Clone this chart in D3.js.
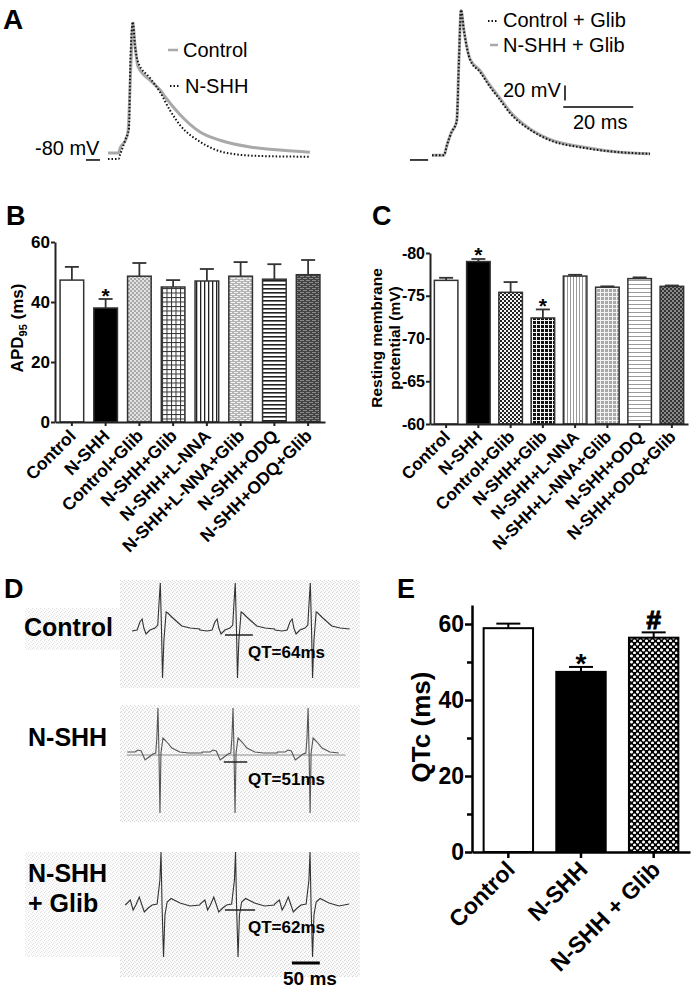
<!DOCTYPE html>
<html>
<head>
<meta charset="utf-8">
<script src="https://cdn.jsdelivr.net/npm/d3@7"></script>
<style>
body { margin: 0; background: #fff; }
svg text { font-family: "Liberation Sans", Arial, sans-serif; }
</style>
</head>
<body>
<div id="fig"></div>
<script>
// ---------------- Data ----------------

// Panel A: action potential traces (time in ms, membrane potential in mV)
var apControlT = [0, 3, 3.5, 5, 5.7, 6.6, 7.1, 7.7, 8.6, 12, 14.9, 16.3, 20.6, 26.3, 32, 40.6, 49, 57.7];
var apControlV = [-80, -80, -73, -63, -52, 44, 93, 64, 35, 17, 4, -5, -29, -52, -63, -72, -76, -79];
var apNshhT = [0, 3, 3.4, 4.9, 6, 6.4, 7.1, 7.7, 8.6, 12, 14.9, 17.7, 20.6, 26.3, 34, 43.4, 57.7];
var apNshhV = [-88, -88, -83, -63, -47, 44, 95, 64, 41, 20, 1, -23, -43, -65, -80, -84, -85];
var apCtrlGlibT = [0, 3.4, 4.3, 5.7, 6.6, 7.1, 7.7, 8.3, 9.1, 10.9, 13.7, 16.6, 19.4, 22.3, 28, 33.7, 43.1, 53.7, 62.3];
var apCtrlGlibV = [-83, -83, -69, -51, -44, -36, 44, 111, 84, 44, 28, 8, -9, -27, -49, -63, -73, -79, -81];
var apNshhGlibT = [0, 3.4, 4.3, 5.7, 6.6, 7.1, 7.7, 8.3, 9.1, 10.9, 13.7, 16.6, 19.4, 22.3, 28, 33.7, 43.1, 53.7, 62.3];
var apNshhGlibV = [-83, -83, -69, -51, -44, -36, 44, 110, 84, 45, 30, 10, -7, -25, -48, -62, -72, -79, -81];

// Panels B and C: groups, means and SEM
var groupsBC = ["Control", "N-SHH", "Control+Glib", "N-SHH+Glib", "N-SHH+L-NNA",
                "N-SHH+L-NNA+Glib", "N-SHH+ODQ", "N-SHH+ODQ+Glib"];
var apdMean = [47.3, 38, 48.6, 45, 47, 48.6, 47.6, 49.1];
var apdErr = [4.4, 3, 4.4, 2.3, 4, 4.7, 5, 4.9];
var rmpMean = [-76.8, -79.0, -75.4, -72.4, -77.3, -76.0, -77.0, -76.1];
var rmpErr = [0.3, 0.3, 1.2, 1.0, 0.15, 0.1, 0.15, 0.1];
var apdTicks = [0, 20, 40, 60];
var rmpTicks = [-80, -75, -70, -65, -60];

// Panel D: ECG beat templates (ms from R peak, mV) and R-peak times (ms)
var ecgControlDt = [-63, -50, -41, -36, -32, -29, -25, -18, -9, -4, -2, 0.5, 2.7, 4.5, 7, 11, 14, 21, 29, 39, 54, 71];
var ecgControlV = [0.04, 0.02, 0.04, 0.2, 0.26, 0.08, -0.04, 0.04, 0.08, 0.14, 0.54, 0.98, 0.04, -0.92, -0.16, 0.4, 0.38, 0.3, 0.22, 0.12, 0.08, 0.06];
var ecgControlR = [71.7, 206, 340.5];
var ecgNshhDt = [-55, -41, -36, -30, -23, -16, -9, -4, -2, 0, 1.8, 3.6, 5.4, 9, 16, 25, 39, 55, 79];
var ecgNshhV = [0.02, 0.02, 0.06, 0.04, -0.14, -0.08, -0.02, 0.0, 0.3, 0.9, 0.0, -1.2, 0.0, 0.3, 0.22, 0.1, 0.02, 0.0, 0.0];
var ecgNshhR = [68, 202.5, 337];
var ecgGlibDt = [-64, -55, -50, -45, -39, -36, -30, -23, -16, -7, -2, 0, 1.8, 4.5, 7, 11, 18, 34, 52, 70];
var ecgGlibV = [0.0, 0.1, -0.1, 0.0, 0.16, 0.06, -0.14, -0.06, 0.0, 0.02, 0.5, 1.06, 0.0, -1.04, -0.2, 0.06, 0.13, 0.04, -0.02, 0.02];
var ecgGlibR = [73.5, 207, 340.5];
var ecgRange = [[9, 421], [12, 404], [9, 413]];   // start/end of each trace
var qtMarks = [[188, 238, -0.06], [186, 228, -0.18], [188, 242, -0.1]];
var qtLabels = ["QT=64ms", "QT=51ms", "QT=62ms"];

// Panel E: QTc
var qtcGroups = ["Control", "N-SHH", "N-SHH + Glib"];
var qtcMean = [58.9, 47.4, 56.4];
var qtcErr = [1.2, 1.3, 1.4];
var qtcTicks = [0, 20, 40, 60];
var qtcMinor = [10, 30, 50];

// ---------------- SVG ----------------
var svg = d3.select("#fig").append("svg")
    .attr("width", 695)
    .attr("height", 991);

var defs = svg.append("defs");

function makePattern(id, w, h, bg, rects) {
    var p = defs.append("pattern")
        .attr("id", id)
        .attr("patternUnits", "userSpaceOnUse")
        .attr("width", w)
        .attr("height", h);
    p.append("rect").attr("width", w).attr("height", h).attr("fill", bg);
    rects.forEach(r => {
        p.append("rect")
            .attr("x", r[0]).attr("y", r[1])
            .attr("width", r[2]).attr("height", r[3])
            .attr("fill", r[4]);
    });
}

// Panel B fills
makePattern("bStip", 4, 4, "#e2e2e2", [[0, 0, 2, 2, "#a8a8a8"], [2, 2, 2, 2, "#a8a8a8"]]);
makePattern("bGrid", 4.5, 4.5, "#fff", [[0, 0, 4.5, 1, "#333"], [0, 0, 1, 4.5, "#333"]]);
makePattern("bVert", 4, 4, "#fff", [[0, 0, 1.3, 4, "#222"]]);
makePattern("bBrick", 6, 4, "#b4b4b4", [[0, 0, 4, 1, "#f2f2f2"], [3, 2, 3, 1, "#f2f2f2"], [0, 2, 1, 1, "#f2f2f2"]]);
makePattern("bHoriz", 4, 4, "#fff", [[0, 0, 4, 1.6, "#222"]]);
makePattern("bDark", 6, 4, "#444", [[0, 0, 4, 1, "#8a8a8a"], [3, 2, 3, 1, "#8a8a8a"], [0, 2, 1, 1, "#8a8a8a"]]);
// Panel C fills
makePattern("cCheck", 4, 4, "#f4f4f4", [[0, 0, 2, 2, "#222"], [2, 2, 2, 2, "#222"]]);
makePattern("cGrid", 4, 4, "#111", [[0, 0, 4, 1, "#f4f4f4"], [0, 0, 1, 4, "#f4f4f4"]]);
makePattern("cVert", 3, 3, "#fff", [[0, 0, 1, 3, "#9a9a9a"]]);
makePattern("cDots", 4, 4, "#a8a8a8", [[0, 0, 4, 1, "#f2f2f2"], [0, 0, 1, 4, "#f2f2f2"]]);
makePattern("cHoriz", 4, 4, "#fff", [[0, 0, 4, 1, "#9a9a9a"]]);
makePattern("cDark", 4, 4, "#333", [[0, 0, 2, 2, "#8a8a8a"], [2, 2, 2, 2, "#8a8a8a"]]);
// Panel E fill
makePattern("eCross", 6, 6, "#000", [[0, 1.2, 3, 1.6, "#fff"], [0.7, 0.5, 1.6, 3, "#fff"],
    [3, 4.2, 3, 1.6, "#fff"], [3.7, 3.5, 1.6, 3, "#fff"]]);
// Panel D stipple background
makePattern("dStip", 4, 4, "#fbfbfb", [[0, 0, 1, 1, "#d4d4d4"], [2, 1, 1, 1, "#dcdcdc"], [1, 3, 1, 1, "#d8d8d8"], [3, 2, 1, 1, "#e0e0e0"]]);

var fillsB = ["#fff", "#000", "url(#bStip)", "url(#bGrid)", "url(#bVert)", "url(#bBrick)", "url(#bHoriz)", "url(#bDark)"];
var fillsC = ["#fff", "#000", "url(#cCheck)", "url(#cGrid)", "url(#cVert)", "url(#cDots)", "url(#cHoriz)", "url(#cDark)"];
var fillsE = ["#fff", "#000", "url(#eCross)"];

function addText(g, x, y, str, size, weight, anchor) {
    return g.append("text")
        .attr("x", x).attr("y", y)
        .attr("font-size", size)
        .attr("font-weight", weight || "normal")
        .attr("text-anchor", anchor || "start")
        .attr("fill", "#000")
        .text(str);
}

// Panel letters
addText(svg, 3, 29, "A", 28, "bold");
addText(svg, 6, 225, "B", 27, "bold");
addText(svg, 372, 225, "C", 27, "bold");
addText(svg, 4, 598, "D", 27, "bold");
addText(svg, 397, 598, "E", 27, "bold");

// ---------------- Panel A ----------------
var gA = svg.append("g");
var xAL = d3.scaleLinear().domain([0, 60]).range([108, 318]);
var xAR = d3.scaleLinear().domain([0, 60]).range([432, 642]);
var yA = d3.scaleLinear().domain([-80, 20]).range([153, 78]);

function apLine(xs) {
    return d3.line().curve(d3.curveMonotoneX).x(d => xs(d[0])).y(d => yA(d[1]));
}

// left: Control (grey) and N-SHH (dotted black)
gA.append("path").datum(d3.zip(apControlT, apControlV))
    .attr("d", apLine(xAL)).attr("fill", "none")
    .attr("stroke", "#a9a9a9").attr("stroke-width", 3);
gA.append("path").datum(d3.zip(apNshhT, apNshhV))
    .attr("d", apLine(xAL)).attr("fill", "none")
    .attr("stroke", "#111").attr("stroke-width", 2)
    .attr("stroke-dasharray", "1.5,2");

// right: N-SHH + Glib (grey) under Control + Glib (dotted)
gA.append("path").datum(d3.zip(apNshhGlibT, apNshhGlibV))
    .attr("d", apLine(xAR)).attr("fill", "none")
    .attr("stroke", "#a9a9a9").attr("stroke-width", 3);
gA.append("path").datum(d3.zip(apCtrlGlibT, apCtrlGlibV))
    .attr("d", apLine(xAR)).attr("fill", "none")
    .attr("stroke", "#111").attr("stroke-width", 2)
    .attr("stroke-dasharray", "1.5,2");

// -80 mV markers
gA.append("line").attr("x1", xAL(-6.3)).attr("x2", xAL(-2.3))
    .attr("y1", yA(-89.3)).attr("y2", yA(-89.3)).attr("stroke", "#000").attr("stroke-width", 1.5);
gA.append("line").attr("x1", xAR(-6.3)).attr("x2", xAR(-1.1))
    .attr("y1", yA(-89.3)).attr("y2", yA(-89.3)).attr("stroke", "#000").attr("stroke-width", 1.5);
addText(gA, 35, 155, "-80 mV", 20);

// legends
gA.append("line").attr("x1", 168).attr("x2", 178).attr("y1", 50).attr("y2", 50)
    .attr("stroke", "#a9a9a9").attr("stroke-width", 2.5);
addText(gA, 183, 57, "Control", 20);
gA.append("line").attr("x1", 170).attr("x2", 180).attr("y1", 86).attr("y2", 86)
    .attr("stroke", "#111").attr("stroke-width", 2).attr("stroke-dasharray", "1.5,2");
addText(gA, 185, 93, "N-SHH", 20);

gA.append("line").attr("x1", 488).attr("x2", 498).attr("y1", 21).attr("y2", 21)
    .attr("stroke", "#111").attr("stroke-width", 2).attr("stroke-dasharray", "1.5,2");
addText(gA, 503, 27, "Control + Glib", 20);
gA.append("line").attr("x1", 490).attr("x2", 498).attr("y1", 45).attr("y2", 45)
    .attr("stroke", "#a9a9a9").attr("stroke-width", 2.5);
addText(gA, 503, 52, "N-SHH + Glib", 20);

// scale bars: 20 mV and 20 ms
gA.append("line").attr("x1", xAR(38)).attr("x2", xAR(38))
    .attr("y1", yA(-10)).attr("y2", yA(10)).attr("stroke", "#000").attr("stroke-width", 1.5);
gA.append("line").attr("x1", xAR(37.5)).attr("x2", xAR(57.5))
    .attr("y1", yA(-18.7)).attr("y2", yA(-18.7)).attr("stroke", "#000").attr("stroke-width", 1.5);
addText(gA, 503, 97, "20 mV", 20);
addText(gA, 573, 129, "20 ms", 20);

// ---------------- Bar chart helper ----------------
function barChart(opt) {
    var g = svg.append("g");
    var x = d3.scaleBand().domain(opt.groups).range(opt.xRange)
        .paddingInner(opt.padIn).paddingOuter(opt.padOut);
    var y = d3.scaleLinear().domain(opt.yDomain).range(opt.yRange);
    var base = opt.yDomain[0];

    // bars
    g.selectAll("rect.bar").data(opt.means).enter().append("rect")
        .attr("class", "bar")
        .attr("x", (d, i) => x(opt.groups[i]))
        .attr("width", x.bandwidth())
        .attr("y", d => y(d))
        .attr("height", d => y(base) - y(d))
        .attr("fill", (d, i) => opt.fills[i])
        .attr("stroke", opt.stroke)
        .attr("stroke-width", opt.strokeW);

    // error bars
    var sign = opt.yDomain[1] > opt.yDomain[0] ? 1 : -1;
    opt.means.forEach((m, i) => {
        var cx = x(opt.groups[i]) + x.bandwidth() / 2;
        var top = y(m + sign * opt.errs[i]);
        g.append("line").attr("x1", cx).attr("x2", cx)
            .attr("y1", y(m)).attr("y2", top)
            .attr("stroke", opt.stroke).attr("stroke-width", opt.errW);
        g.append("line").attr("x1", cx - opt.cap).attr("x2", cx + opt.cap)
            .attr("y1", top).attr("y2", top)
            .attr("stroke", opt.stroke).attr("stroke-width", opt.errW);
    });

    // y axis
    var yAxis = g.append("g")
        .attr("transform", `translate(${opt.xRange[0]},0)`)
        .call(d3.axisLeft(y).tickValues(opt.ticks).tickSize(opt.tickLen).tickSizeOuter(0)
            .tickFormat(d => String(d)));
    yAxis.selectAll("text").attr("font-size", opt.tickFont).attr("font-weight", "bold")
        .attr("fill", "#000").attr("font-family", "Liberation Sans, Arial, sans-serif")
        .attr("x", -opt.tickLen - 1);
    if (opt.minor) {
        yAxis.selectAll(".minor").data(opt.minor).enter().append("line")
            .attr("x1", 0).attr("x2", -opt.minorLen)
            .attr("y1", d => y(d) + 0.5).attr("y2", d => y(d) + 0.5)
            .attr("stroke", opt.axisColor).attr("stroke-width", opt.axisW);
    }

    // x axis
    var xAxis = g.append("g")
        .attr("transform", `translate(0,${y(base)})`)
        .call(d3.axisBottom(x).tickSize(opt.xTickLen).tickSizeOuter(0));
    xAxis.selectAll("text")
        .attr("font-size", opt.labelFont).attr("font-weight", "bold")
        .attr("fill", "#000").attr("font-family", "Liberation Sans, Arial, sans-serif")
        .attr("x", 0).attr("y", 0).attr("dy", 0)
        .attr("text-anchor", "end")
        .attr("transform", `translate(${opt.labelDx},${opt.labelDy}) rotate(-45)`);

    g.selectAll(".domain, .tick line")
        .attr("stroke", opt.axisColor).attr("stroke-width", opt.axisW);

    // significance marks
    opt.marks.forEach(mk => {
        var i = opt.groups.indexOf(mk.group);
        var cx = x(mk.group) + x.bandwidth() / 2;
        var top = y(opt.means[i] + sign * opt.errs[i]);
        addText(g, cx, top + mk.dy, mk.text, mk.size, "bold", "middle")
            .attr("stroke", "#000").attr("stroke-width", mk.heavy || 0);
    });

    return { g: g, x: x, y: y };
}

// ---------------- Panel B ----------------
var pB = barChart({
    groups: groupsBC, means: apdMean, errs: apdErr, fills: fillsB,
    xRange: [55, 325], padIn: 0.3, padOut: 0.15,
    yDomain: [0, 60], yRange: [422, 242], ticks: apdTicks,
    stroke: "#333", strokeW: 1.5, errW: 1.8, cap: 7,
    tickLen: 4, xTickLen: 4, tickFont: 17, labelFont: 17.5,
    labelDx: 5, labelDy: 15, axisColor: "#222", axisW: 2,
    marks: [{ group: "N-SHH", text: "*", size: 21, dy: 4 }]
});
var apdLabel = pB.g.append("text")
    .attr("transform", "translate(23,328) rotate(-90)")
    .attr("text-anchor", "middle")
    .attr("font-size", 17).attr("font-weight", "bold");
apdLabel.append("tspan").text("APD");
apdLabel.append("tspan").attr("font-size", 11).attr("dy", 4).text("95");
apdLabel.append("tspan").attr("dy", -4).text(" (ms)");

// ---------------- Panel C ----------------
var pC = barChart({
    groups: groupsBC, means: rmpMean, errs: rmpErr, fills: fillsC,
    xRange: [430, 688], padIn: 0.27, padOut: 0.135,
    yDomain: [-60, -80], yRange: [424, 253], ticks: rmpTicks,
    stroke: "#333", strokeW: 1.5, errW: 1.8, cap: 7,
    tickLen: 4, xTickLen: 4, tickFont: 16, labelFont: 17,
    labelDx: 5, labelDy: 14, axisColor: "#222", axisW: 2,
    marks: [{ group: "N-SHH", text: "*", size: 21, dy: 3 },
            { group: "N-SHH+Glib", text: "*", size: 21, dy: 4 }]
});
pC.g.append("text")
    .attr("transform", "translate(382,338) rotate(-90)")
    .attr("text-anchor", "middle")
    .attr("font-size", 15.5).attr("font-weight", "bold")
    .text("Resting membrane");
pC.g.append("text")
    .attr("transform", "translate(400,338) rotate(-90)")
    .attr("text-anchor", "middle")
    .attr("font-size", 15.5).attr("font-weight", "bold")
    .text("potential (mV)");

// ---------------- Panel D ----------------
var gD = svg.append("g");
var boxes = [[580, 688, 632], [705, 822, 753], [852, 977, 905]];  // top, bottom, baseline
var ecgDt = [ecgControlDt, ecgNshhDt, ecgGlibDt];
var ecgV = [ecgControlV, ecgNshhV, ecgGlibV];
var ecgR = [ecgControlR, ecgNshhR, ecgGlibR];
var ecgColor = ["#333", "#555", "#333"];
var xD = d3.scaleLinear().domain([0, 430]).range([120, 360]);

// faint label backgrounds
gD.append("rect").attr("x", 25).attr("y", 608).attr("width", 95).attr("height", 42).attr("fill", "url(#dStip)").attr("opacity", 0.7);
gD.append("rect").attr("x", 25).attr("y", 852).attr("width", 95).attr("height", 105).attr("fill", "url(#dStip)").attr("opacity", 0.7);

boxes.forEach((b, k) => {
    gD.append("rect").attr("x", 120).attr("y", b[0])
        .attr("width", 240).attr("height", b[1] - b[0])
        .attr("fill", "url(#dStip)");

    var yD = d3.scaleLinear().domain([-1, 1]).range([b[2] + 50, b[2] - 50]);
    var pts = [];
    ecgR[k].forEach(r => {
        ecgDt[k].forEach((dt, j) => {
            var t = r + dt;
            if (t >= ecgRange[k][0] && t <= ecgRange[k][1]) pts.push([t, ecgV[k][j]]);
        });
    });
    pts.sort((a, b2) => a[0] - b2[0]);

    if (k === 1) {
        gD.append("line").attr("x1", xD(ecgRange[1][0])).attr("x2", xD(ecgRange[1][1]))
            .attr("y1", yD(-0.04)).attr("y2", yD(-0.04))
            .attr("stroke", "#777").attr("stroke-width", 0.8);
    }

    gD.append("path").datum(pts)
        .attr("d", d3.line().x(d => xD(d[0])).y(d => yD(d[1])))
        .attr("fill", "none").attr("stroke", ecgColor[k]).attr("stroke-width", 1.1);

    var q = qtMarks[k];
    gD.append("line").attr("x1", xD(q[0])).attr("x2", xD(q[1]))
        .attr("y1", yD(q[2])).attr("y2", yD(q[2]))
        .attr("stroke", "#222").attr("stroke-width", 1.5);
});

addText(gD, 248, 658, qtLabels[0], 17, "bold");
addText(gD, 248, 785, qtLabels[1], 17, "bold");
addText(gD, 248, 933, qtLabels[2], 17, "bold");

addText(gD, 24, 636, "Control", 25, "bold");
addText(gD, 28, 746, "N-SHH", 25, "bold");
addText(gD, 28, 882, "N-SHH", 25, "bold");
addText(gD, 28, 912, "+ Glib", 25, "bold");

// 50 ms scale bar
gD.append("line").attr("x1", xD(308)).attr("x2", xD(358))
    .attr("y1", 963).attr("y2", 963).attr("stroke", "#000").attr("stroke-width", 3);
addText(gD, 283, 985, "50 ms", 19, "bold");

// ---------------- Panel E ----------------
var pE = barChart({
    groups: qtcGroups, means: qtcMean, errs: qtcErr, fills: fillsE,
    xRange: [472, 690], padIn: 0.32, padOut: 0.16,
    yDomain: [0, 65], yRange: [852, 605], ticks: qtcTicks,
    minor: qtcMinor, minorLen: 5,
    stroke: "#000", strokeW: 2, errW: 2, cap: 12,
    tickLen: 7, xTickLen: 6, tickFont: 23, labelFont: 23,
    labelDx: 8, labelDy: 19, axisColor: "#000", axisW: 2.5,
    marks: [{ group: "N-SHH", text: "*", size: 28, dy: 6 },
            { group: "N-SHH + Glib", text: "#", size: 26, dy: -3, heavy: 1.2 }]
});
pE.g.append("text")
    .attr("transform", "translate(430,727) rotate(-90)")
    .attr("text-anchor", "middle")
    .attr("font-size", 26).attr("font-weight", "bold")
    .text("QTc (ms)");
</script>
</body>
</html>
